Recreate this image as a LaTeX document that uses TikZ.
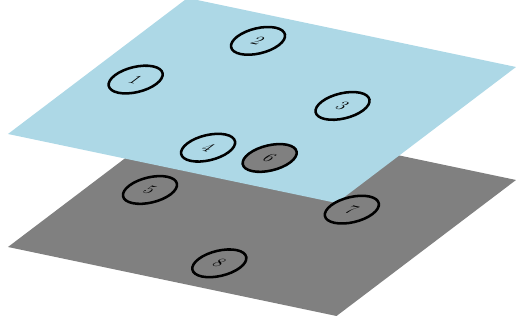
\documentclass[tikz,border=0pt]{standalone}
\usepackage{tikz}
\tikzset{>=latex}
\definecolor{myblue}{RGB}{173, 216, 230}
\tikzset{
plane node/.style = {circle, draw, line width = 1.8pt, minimum size = 12.6mm, inner sep = 0pt, font = \Large, transform shape},
upper plane/.style = {cm = {0.8213, -0.1725, 0.6904, 0.5231, (0.2, 4.8)}},
lower plane/.style = {cm = {0.8213, -0.1725, 0.6904, 0.5231, (0.2, 1.975)}}
}
\begin{document}
\begin{tikzpicture}
\useasboundingbox (0, 0) rectangle (12.9, 8.15);
\fill[gray, lower plane] (0, 0) rectangle (10, 6.5);

\begin{scope}[upper plane]
\fill[myblue] (0, 0) rectangle (10, 6.5);
\foreach \n / \u / \v / \c in {1/1.33/3.04/myblue, 2/3.03/5.45/myblue, 3/7.09/3.68/myblue, 4/5.20/1.06/myblue, 6/6.99/1.16/gray}{
	\node[plane node, fill = \c] (v\n) at (\u, \v) {\n};
}
\end{scope}

\begin{scope}[lower plane]
\foreach \n / \u / \v in {5/1.59/3.25, 7/7.02/4.10, 8/5.55/1.05}{
	\node[plane node, fill = gray] (v\n) at (\u, \v) {\n};
}
\end{scope}
\end{tikzpicture}
\end{document}
